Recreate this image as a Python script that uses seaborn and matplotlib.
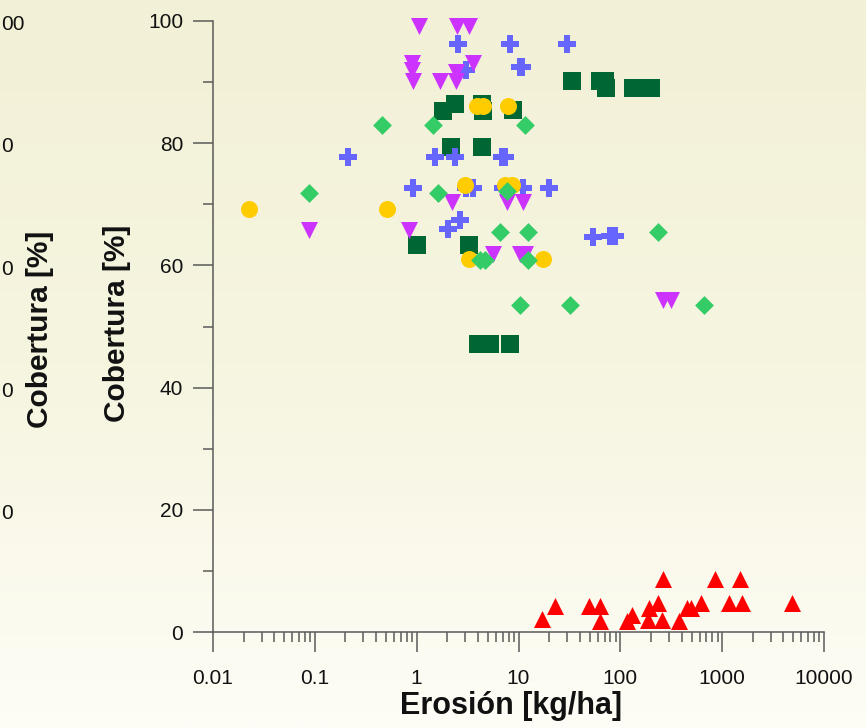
import numpy as np
import pandas as pd
import matplotlib
matplotlib.use("Agg")
import matplotlib.pyplot as plt
import matplotlib.transforms as mtransforms
from matplotlib.ticker import LogLocator, NullFormatter, MultipleLocator
import seaborn as sns

# --- data (x = erosion kg/ha, y = cover %) ---
red_x = [16.9, 22.9, 49.6, 63.1, 63.8, 115, 129, 191, 235, 189, 259, 377,
         263, 845, 1497, 447, 490, 626, 1175, 1571, 4820]
red_y = [2.1, 4.25, 4.25, 4.25, 1.85, 1.85, 2.8, 4.0, 4.7, 2.0, 2.0, 1.85,
         8.6, 8.6, 8.6, 4.0, 4.0, 4.7, 4.8, 4.8, 4.8]

mag_x = [1.05, 2.47, 3.29, 0.906, 0.894, 0.927, 1.69, 2.43, 2.43, 3.6,
         2.21, 7.65, 11.1, 0.0877, 0.84, 5.67, 10.4, 11.6, 263, 312]
mag_y = [99.2, 99.2, 99.2, 93.1, 91.9, 90.1, 90.1, 91.6, 90.1, 93.1,
         70.4, 70.4, 70.4, 65.8, 65.8, 61.9, 61.9, 61.9, 54.3, 54.3]

plus_x = [2.53, 8.26, 30.1, 3.08, 10.4, 10.9, 0.213, 1.52, 2.39, 6.82, 7.3,
          0.927, 3.08, 3.6, 7.0, 11.1, 20.0, 2.67, 2.05, 53.4, 79.3, 88.8]
plus_y = [96.3, 96.3, 96.3, 92.0, 92.4, 92.4, 77.7, 77.7, 77.7, 77.7, 77.7,
          72.6, 72.6, 72.6, 72.6, 72.6, 72.6, 67.5, 65.9, 64.7, 64.8, 64.8]

sq_x = [33.3, 63.1, 70.0, 72.4, 134, 199, 1.80, 2.37, 4.36, 4.5, 8.89,
        2.15, 4.36, 1.01, 3.29, 4.03, 5.25, 8.26]
sq_y = [90.2, 90.2, 90.2, 89.0, 89.0, 89.0, 85.2, 86.4, 86.4, 85.2, 85.4,
        79.4, 79.4, 63.3, 63.3, 47.2, 47.2, 47.2]

dia_x = [0.46, 1.46, 11.6, 0.0877, 1.63, 7.65, 6.58, 12.5, 4.19, 4.66, 12.5,
         10.4, 32.1, 232, 661]
dia_y = [83.0, 83.0, 83.0, 71.8, 71.8, 72.1, 65.5, 65.5, 60.9, 60.9, 60.9,
         53.5, 53.5, 65.5, 53.5]

yel_x = [3.88, 4.5, 7.94, 3.01, 7.4, 8.6, 0.0228, 0.515, 3.29, 17.4]
yel_y = [86.1, 86.1, 86.1, 73.2, 73.2, 73.2, 69.2, 69.2, 61.0, 61.0]

xtick_vals = [0.01, 0.1, 1, 10, 100, 1000, 10000]
xtick_labels = ["0.01", "0.1", "1", "10", "100", "1000", "10000"]
ytick_vals = [0, 20, 40, 60, 80, 100]
# what is left visible of the neighbouring chart's tick labels
ghost_vals = [100, 80, 60, 40, 20]
ghost_labels = ["00", "0", "0", "0", "0"]

# drawing order: bottom first
series = [
    ("squares", sq_x, sq_y, "s", "#006633", 150),
    ("plus", plus_x, plus_y, "P", "#6666FF", 150),
    ("magenta", mag_x, mag_y, "v", "#CC33FF", 150),
    ("yellow", yel_x, yel_y, "o", "#FFCC00", 150),
    ("diamonds", dia_x, dia_y, "D", "#33CC66", 92),
    ("red", red_x, red_y, "^", "#FF0000", 150),
]

sns.set_theme(style="ticks")
plt.rcParams["font.family"] = ["Liberation Sans", "DejaVu Sans"]

fig = plt.figure(figsize=(8.66, 7.28), dpi=100)

# soft vertical gradient behind everything
bg = fig.add_axes([0, 0, 1, 1], zorder=-10)
top = np.array([242, 240, 214]) / 255
mid = np.array([246, 245, 224]) / 255
bot = np.array([254, 253, 246]) / 255
t = np.linspace(0, 1, 256)[:, None]
grad = np.where(t < 0.5, top + (mid - top) * (t / 0.5), mid + (bot - mid) * ((t - 0.5) / 0.5))
bg.imshow(grad[:, None, :], aspect="auto", extent=[0, 1, 0, 1])
bg.axis("off")

ax = fig.add_axes([213 / 866, 1 - 632 / 728, 611 / 866, 611 / 728])
ax.set_facecolor("none")

for name, xs, ys, mk, col, size in series:
    df = pd.DataFrame({"x": xs, "y": ys})
    sns.scatterplot(data=df, x="x", y="y", marker=mk, color=col, s=size,
                    linewidth=0, ax=ax, clip_on=False, legend=False)

ax.set_xscale("log")
ax.set_xlim(0.01, 10000)
ax.set_ylim(0, 100)
ax.set_xticks(xtick_vals, xtick_labels)
ax.xaxis.set_minor_locator(LogLocator(base=10, subs=np.arange(2, 10), numticks=20))
ax.xaxis.set_minor_formatter(NullFormatter())
ax.set_yticks(ytick_vals)
ax.yaxis.set_minor_locator(MultipleLocator(10))

axis_col = "#5a5a5a"
for side in ["top", "right"]:
    ax.spines[side].set_visible(False)
for side in ["left", "bottom"]:
    ax.spines[side].set_color(axis_col)
    ax.spines[side].set_linewidth(1.1)
ax.tick_params(which="major", direction="out", length=14.4, width=1.1, color=axis_col,
               labelsize=15, labelcolor="#111111")
ax.tick_params(which="minor", direction="out", length=7.2, width=1.1, color=axis_col)
ax.tick_params(axis="x", which="major", pad=12)
ax.tick_params(axis="y", which="major", pad=7)

ax.set_xlabel("Erosión [kg/ha]", fontsize=22, fontweight="bold", color="#111111", va="center")
ax.xaxis.set_label_coords(0.488, -0.121)
ax.set_ylabel("Cobertura [%]", fontsize=21.5, fontweight="bold", color="#111111", va="center")
ax.yaxis.set_label_coords(-0.157, 0.505)

# remnants of the neighbouring chart on the left edge
tr = mtransforms.blended_transform_factory(fig.transFigure, ax.transData)
for v, lab in zip(ghost_vals, ghost_labels):
    fig.text(1 / 866, v - 0.6, lab, transform=tr, fontsize=15, color="#111111",
             ha="left", va="center")
fig.text(40 / 866, 1 - 329 / 728, "Cobertura [%]",
         rotation=90, fontsize=21.5, fontweight="bold", color="#111111",
         ha="center", va="center")

fig.savefig("out.png", dpi=100)
